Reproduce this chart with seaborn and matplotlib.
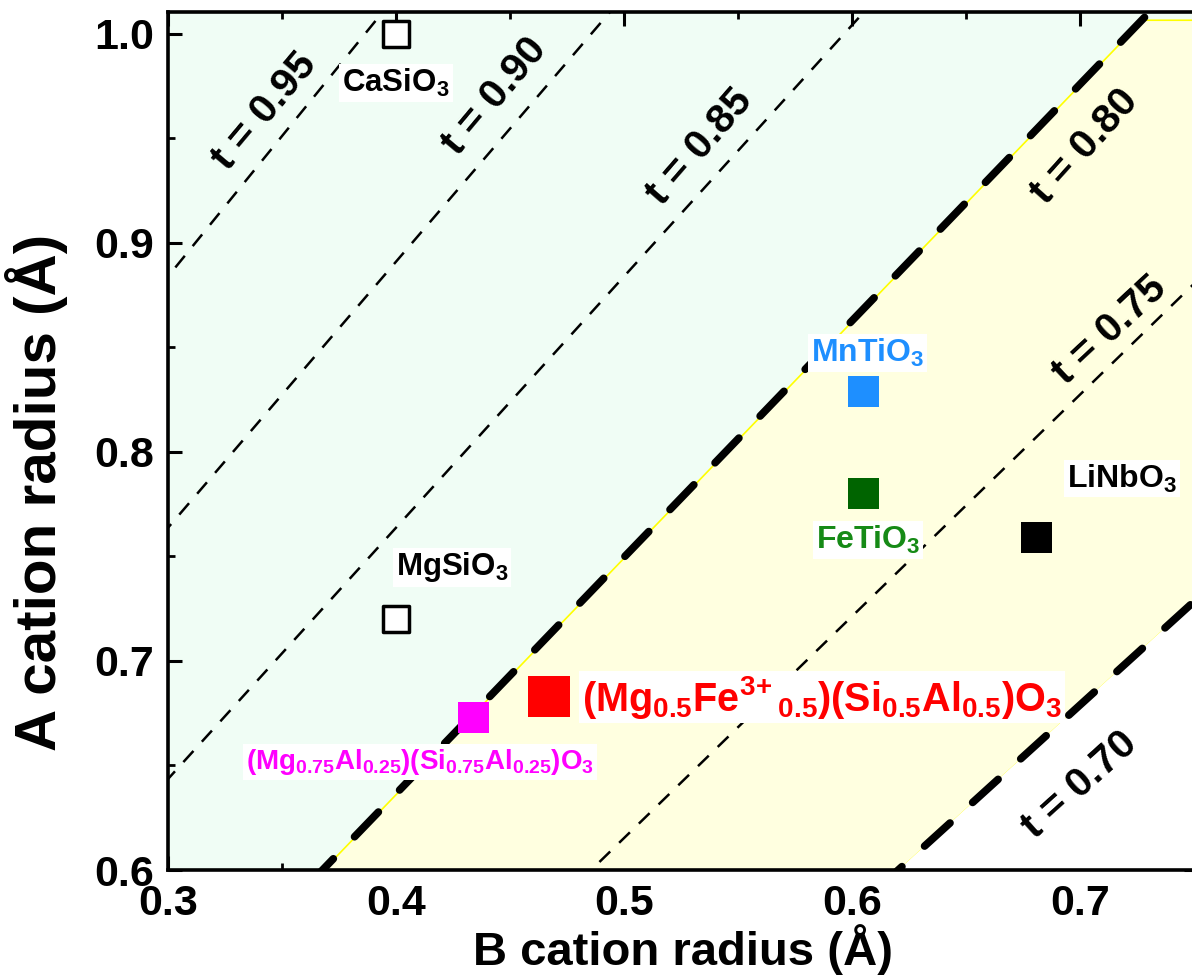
import numpy as np
import pandas as pd
import matplotlib
matplotlib.use("Agg")
import matplotlib.pyplot as plt
import seaborn as sns

# ---------------- data ----------------
t_values = [0.95, 0.90, 0.85, 0.80, 0.75, 0.70]
t_heavy = [0.80, 0.70]
r_O = 1.40

names = ["CaSiO3", "MgSiO3", "MnTiO3", "FeTiO3", "LiNbO3", "MgAl", "MgFe"]
r_B = [0.400, 0.400, 0.605, 0.605, 0.681, 0.434, 0.467]
r_A = [1.000, 0.720, 0.829, 0.780, 0.759, 0.673, 0.683]
open_marker = [True, True, False, False, False, False, False]

labels = {
    "CaSiO3": r"$CaSiO_3$",
    "MgSiO3": r"$MgSiO_3$",
    "MnTiO3": r"$MnTiO_3$",
    "FeTiO3": r"$FeTiO_3$",
    "LiNbO3": r"$LiNbO_3$",
    "MgAl": r"$(Mg_{0.75}Al_{0.25})(Si_{0.75}Al_{0.25})O_3$",
    "MgFe": r"$(Mg_{0.5}Fe^{3\!+}{}_{0.5})(Si_{0.5}Al_{0.5})O_3$",
}

# ---------------- style ----------------
sns.set_style("ticks")
plt.rcParams["font.family"] = ["Liberation Sans", "DejaVu Sans"]
plt.rcParams["font.weight"] = "bold"
plt.rcParams["text.color"] = "black"
plt.rcParams["axes.labelcolor"] = "black"
plt.rcParams["xtick.color"] = "black"
plt.rcParams["ytick.color"] = "black"
plt.rcParams["axes.edgecolor"] = "black"
plt.rcParams["mathtext.fontset"] = "custom"
plt.rcParams["mathtext.rm"] = "Liberation Sans:bold"
plt.rcParams["mathtext.bf"] = "Liberation Sans:bold"
plt.rcParams["mathtext.it"] = "Liberation Sans:bold"
plt.rcParams["mathtext.default"] = "bf"

mint = "#F0FDF5"
cream = "#FFFFE0"

fig = plt.figure(figsize=(11.92, 9.76), dpi=100)
ax = fig.add_axes([168 / 1192, 106 / 976, 1030 / 1192, 858 / 976])
ax.set_facecolor(mint)
xlim = (0.3, 0.7518)
ylim = (0.6, 1.0105)


def tline(t, x):
    return t * np.sqrt(2) * (np.asarray(x) + r_O) - r_O


xx = np.linspace(0.25, 0.80, 400)
y80 = tline(0.80, xx)
y70 = tline(0.70, xx)
top = 1.0068
lo = np.maximum(0.6, y70)
hi = np.minimum(top, y80)
ok = hi > lo
ax.fill_between(xx[ok], lo[ok], hi[ok], facecolor=cream, edgecolor="#FFFF00",
                linewidth=1.2, zorder=1)
okw = y70 > 0.6
ax.fill_between(xx[okw], 0.59, y70[okw], facecolor="white", edgecolor="none", zorder=1.1)

for t in t_values:
    heavy = t in t_heavy
    ax.plot(xx, tline(t, xx), color="black",
            linewidth=5.5 if heavy else 1.8,
            linestyle=(0, (4.5, 4.0)) if heavy else (0, (6, 5)),
            dash_capstyle="round" if heavy else "butt", zorder=2)

# t labels
t_lab = {0.95: (0.3425, 0.963, 50), 0.90: (0.4434, 0.970, 50), 0.85: (0.5333, 0.946, 49),
         0.80: (0.702, 0.946, 48), 0.75: (0.713, 0.858, 43), 0.70: (0.700, 0.6406, 42)}
for t, (x, y, rot) in t_lab.items():
    ax.text(x, y, f"t = {t:.2f}", rotation=rot, ha="center", va="center",
            fontsize=29.5, fontweight="bold", zorder=3)

# markers
df = pd.DataFrame({"name": names, "rB": r_B, "rA": r_A, "open": open_marker})
colors = {"CaSiO3": "black", "MgSiO3": "black", "MnTiO3": "#1E8FFF", "FeTiO3": "#006400",
          "LiNbO3": "black", "MgAl": "#FF00FF", "MgFe": "#FF0000"}
sizes = {"CaSiO3": 19 ** 2, "MgSiO3": 19 ** 2, "MnTiO3": 22 ** 2, "FeTiO3": 22 ** 2,
         "LiNbO3": 22 ** 2, "MgAl": 22 ** 2, "MgFe": 30 ** 2}

filled = df[~df["open"]]
sns.scatterplot(data=filled, x="rB", y="rA", hue="name", palette=colors, size="name",
                sizes=sizes, marker="s", linewidth=0, legend=False, ax=ax, zorder=4)
opened = df[df["open"]]
sns.scatterplot(data=opened, x="rB", y="rA", size="name", sizes=sizes, marker="s",
                facecolor="white", edgecolor="black", linewidth=2.5, legend=False,
                ax=ax, zorder=4)

# annotations
ann = {
    "CaSiO3": (0.400, 0.9765, "center", 22.5, "black"),
    "MgSiO3": (0.4246, 0.7448, "center", 22.5, "black"),
    "MnTiO3": (0.607, 0.8475, "center", 23, "#1E8FFF"),
    "FeTiO3": (0.607, 0.7577, "center", 23, "#168A16"),
    "LiNbO3": (0.7184, 0.7873, "center", 23, "black"),
    "MgAl": (0.4105, 0.6516, "center", 20, "#FF00FF"),
    "MgFe": (0.4816, 0.6827, "left", 28.5, "#FF0000"),
}
for k, (x, y, ha, fs, c) in ann.items():
    ax.text(x, y, labels[k], ha=ha, va="center", fontsize=fs, color=c, zorder=5,
            bbox=dict(facecolor="white", edgecolor="none", pad=2))

ax.set_xlim(*xlim)
ax.set_ylim(*ylim)
ax.set_xticks([0.3, 0.4, 0.5, 0.6, 0.7])
ax.set_xticks([0.35, 0.45, 0.55, 0.65, 0.75], minor=True)
ax.set_yticks([0.6, 0.7, 0.8, 0.9, 1.0])
ax.set_yticks([0.65, 0.75, 0.85, 0.95], minor=True)
ax.set_xticklabels(["0.3", "0.4", "0.5", "0.6", "0.7"])
ax.set_yticklabels(["0.6", "0.7", "0.8", "0.9", "1.0"])
ax.tick_params(which="major", direction="in", length=10, width=2.2, top=True, right=True,
               labelsize=31, pad=10)
ax.tick_params(which="minor", direction="in", length=5, width=2.0, top=True, right=True)
for lab in ax.get_xticklabels() + ax.get_yticklabels():
    lab.set_fontweight("bold")
for s in ax.spines.values():
    s.set_linewidth(2.6)
    s.set_zorder(6)

ax.set_xlabel("B cation radius (Å)", fontsize=34, fontweight="bold", labelpad=0)
ax.set_ylabel("A cation radius (Å)", fontsize=42, fontweight="bold")
ax.yaxis.set_label_coords(-(168 - 68) / 1030, (870 - 492) / 858)

fig.savefig("out.png", dpi=100)
